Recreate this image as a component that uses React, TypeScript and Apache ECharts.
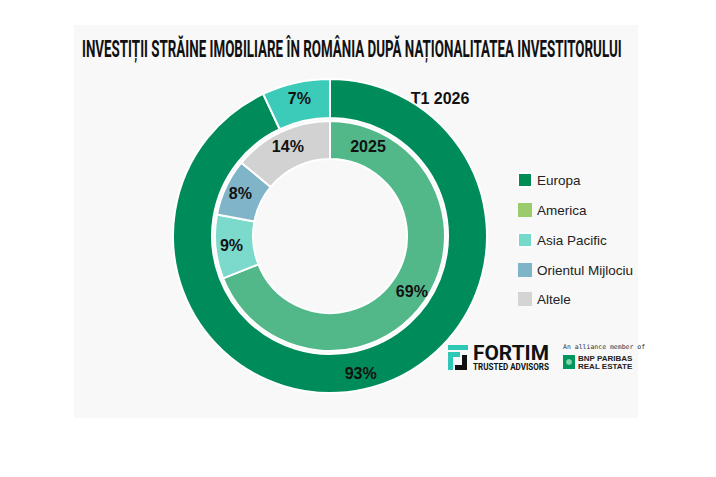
import React, { useEffect, useRef } from "react";
import * as echarts from "echarts";

const categories = ["Europa", "America", "Asia Pacific", "Orientul Mijlociu", "Altele"];
const values2026 = [93, 0, 7, 0, 0];
const values2025 = [69, 0, 9, 8, 14];
const colors2026 = ["#008C5A", "#9CCB6B", "#3CCBB9", "#7EB3C8", "#D3D3D3"];
const colors2025 = ["#52B88A", "#9CCB6B", "#7BDACB", "#80B4C9", "#D2D2D2"];
const legendColors = ["#008C55", "#9CCB6B", "#76D8CB", "#7EB3C8", "#D4D4D4"];
const chartTitle = "INVESTIȚII STRĂINE IMOBILIARE ÎN ROMÂNIA DUPĂ NAȚIONALITATEA INVESTITORULUI";
const ringNames = ["T1 2026", "2025"];

function measure(text: string, font: string): number {
  const c = document.createElement("canvas").getContext("2d");
  if (!c) return 1;
  c.font = font;
  return c.measureText(text).width;
}

function hasFont(name: string): boolean {
  const s = "Orientul Mijlociu 0123 ABC";
  const a = measure(s, "16px monospace");
  const b = measure(s, `16px '${name}', monospace`);
  return Math.abs(a - b) > 0.5;
}

export default function App() {
  const ref = useRef<HTMLDivElement>(null);
  useEffect(() => {
    if (!ref.current) return;
    const chart = echarts.init(ref.current, undefined, { renderer: "svg" });
    const narrow = hasFont("Liberation Sans Narrow");
    const legendFont = narrow ? "'Liberation Sans Narrow'" : "'Liberation Sans'";
    const legendSize = narrow ? 15 : 13.5;
    const titleFont = "Roboto";
    const titleSize = 23;
    const titleScale = 540 / measure(chartTitle, `bold ${titleSize}px ${titleFont}`);
    const fortimScale = 76 / measure("FORTIM", `bold 21px ${titleFont}`);
    const trustedScale = 76 / measure("TRUSTED ADVISORS", `bold 9px ${titleFont}`);

    const mkData = (vals: number[], cols: string[]) =>
      categories.map((name, i) => ({
        name,
        value: vals[i],
        itemStyle: { color: cols[i], borderWidth: vals[i] === 0 ? 0 : 2 },
        label: { show: vals[i] !== 0 },
      }));

    const labelStyle = {
      show: true,
      position: "inside",
      formatter: "{c}%",
      fontFamily: "'Liberation Sans', Arial, sans-serif",
      fontWeight: "bold",
      fontSize: 16,
      color: "#111",
    };

    chart.setOption({
      animation: false,
      backgroundColor: "#ffffff",
      legend: {
        orient: "vertical",
        left: 512,
        top: 167,
        icon: "rect",
        itemWidth: 14,
        itemHeight: 14,
        itemGap: 15,
        selectedMode: false,
        textStyle: { fontFamily: legendFont, fontSize: legendSize, color: "#222" },
        data: categories.map((name, i) => ({ name, itemStyle: { color: legendColors[i] } })),
      },
      graphic: [
        { type: "rect", z: -10, shape: { x: 74, y: 25, width: 564, height: 393 }, style: { fill: "#F8F8F8" } },
        {
          type: "text", x: 82, y: 50, scaleX: titleScale,
          style: { text: chartTitle, fontFamily: titleFont, fontWeight: "bold", fontSize: titleSize, fill: "#111", verticalAlign: "middle", align: "left" },
        },
        {
          type: "text", x: 440, y: 98,
          style: { text: ringNames[0], fontFamily: "'Liberation Sans', Arial", fontWeight: "bold", fontSize: 16, fill: "#111", verticalAlign: "middle", align: "center" },
        },
        {
          type: "text", x: 368, y: 146, z: 10,
          style: { text: ringNames[1], fontFamily: "'Liberation Sans', Arial", fontWeight: "bold", fontSize: 16, fill: "#111", verticalAlign: "middle", align: "center" },
        },
        // FORTIM logo
        { type: "rect", shape: { x: 448, y: 345, width: 20, height: 5 }, style: { fill: "#2FC8B6" } },
        { type: "rect", shape: { x: 448, y: 352, width: 5, height: 18 }, style: { fill: "#2FC8B6" } },
        { type: "rect", shape: { x: 453, y: 352, width: 7, height: 5 }, style: { fill: "#2FC8B6" } },
        { type: "rect", shape: { x: 462, y: 355, width: 5, height: 15 }, style: { fill: "#111" } },
        { type: "rect", shape: { x: 455, y: 365, width: 12, height: 5 }, style: { fill: "#111" } },
        {
          type: "text", x: 473, y: 353, scaleX: fortimScale,
          style: { text: "FORTIM", fontFamily: titleFont, fontWeight: "bold", fontSize: 21, fill: "#111", verticalAlign: "middle", align: "left" },
        },
        {
          type: "text", x: 473, y: 367, scaleX: trustedScale,
          style: { text: "TRUSTED ADVISORS", fontFamily: titleFont, fontWeight: "bold", fontSize: 9, fill: "#111", verticalAlign: "middle", align: "left" },
        },
        // BNP Paribas logo
        {
          type: "text", x: 563, y: 347,
          style: { text: "An alliance member of", fontFamily: "'DejaVu Sans Mono', monospace", fontSize: 6.5, fill: "#333", verticalAlign: "middle", align: "left" },
        },
        { type: "rect", shape: { x: 563, y: 355, width: 12, height: 14 }, style: { fill: "#00965E" } },
        { type: "circle", shape: { cx: 569, cy: 362, r: 3 }, style: { fill: "#7FD3A8" } },
        {
          type: "text", x: 578, y: 358,
          style: { text: "BNP PARIBAS", fontFamily: "'Liberation Sans', Arial", fontWeight: "bold", fontSize: 8, lineHeight: 8, fill: "#222", verticalAlign: "middle", align: "left" },
        },
        {
          type: "text", x: 578, y: 366,
          style: { text: "REAL ESTATE", fontFamily: "'Liberation Sans', Arial", fontWeight: "bold", fontSize: 8, lineHeight: 8, fill: "#222", verticalAlign: "middle", align: "left" },
        },
      ],
      series: [
        {
          name: ringNames[0],
          type: "pie",
          center: [330, 236],
          radius: [118, 157],
          startAngle: 90,
          clockwise: true,
          itemStyle: { borderColor: "#ffffff", borderWidth: 2 },
          label: labelStyle,
          labelLine: { show: false },
          emphasis: { disabled: true },
          data: mkData(values2026, colors2026),
        },
        {
          name: ringNames[1],
          type: "pie",
          center: [330, 236],
          radius: [77, 115],
          startAngle: 90,
          clockwise: true,
          itemStyle: { borderColor: "#ffffff", borderWidth: 2 },
          label: labelStyle,
          labelLine: { show: false },
          emphasis: { disabled: true },
          data: mkData(values2025, colors2025),
        },
      ],
    });
    return () => chart.dispose();
  }, []);
  return <div ref={ref} style={{ position: "absolute", left: 0, top: 0, width: 716, height: 477 }} />;
}
